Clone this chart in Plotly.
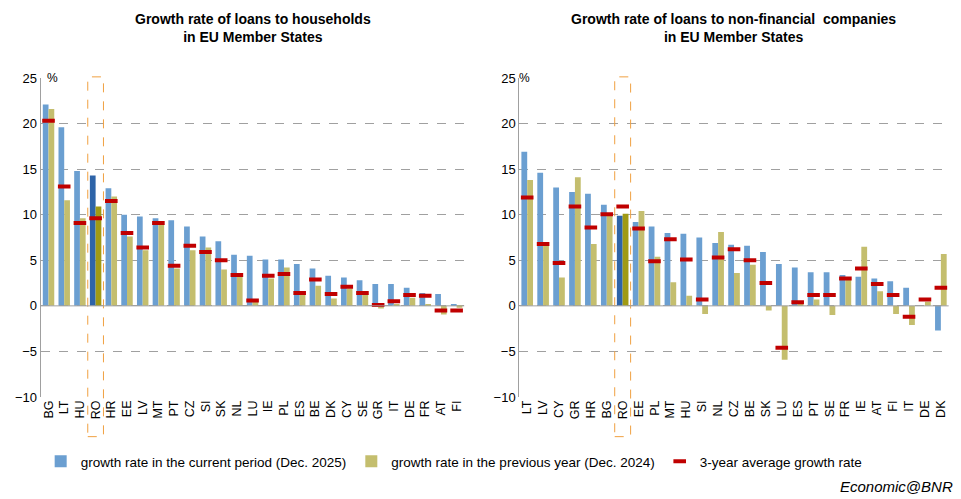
import plotly.graph_objects as go

hh_c = ["BG","LT","HU","RO","HR","EE","LV","MT","PT","CZ","SI","SK","NL","LU","IE","PL","ES","BE","DK","CY","SE","GR","IT","DE","FR","AT","FI"]
hh_cur = [22.1,19.6,14.8,14.3,12.9,10.0,9.8,9.6,9.4,8.7,7.6,7.1,5.6,5.5,5.1,5.1,4.6,4.1,3.3,3.1,2.8,2.4,2.4,2.0,1.4,1.3,0.1]
hh_prev = [21.6,11.6,9.6,10.9,12.0,7.6,6.1,9.0,4.1,6.1,6.4,4.0,3.2,0.55,3.0,4.2,1.4,2.2,0.8,1.9,1.4,-0.3,0.1,0.9,0.2,-0.95,-0.2]
hh_avg = [20.3,13.1,9.1,9.6,11.5,8.0,6.4,9.1,4.4,6.6,5.9,5.0,3.4,0.6,3.3,3.5,1.4,2.9,1.3,2.1,1.4,0.1,0.5,1.2,1.1,-0.5,-0.5]

nf_c = ["LT","LV","CY","GR","HR","BG","RO","EE","PL","MT","HU","SI","NL","CZ","BE","SK","LU","ES","PT","SE","FR","IE","AT","FI","IT","DE","DK"]
nf_cur = [16.9,14.6,13.0,12.5,12.3,11.1,9.9,9.2,8.7,8.0,7.9,7.5,6.9,6.7,6.6,5.9,4.6,4.2,3.7,3.7,3.4,3.2,3.0,2.7,2.0,0.0,-2.7]
nf_prev = [13.8,6.6,3.1,14.1,6.8,10.1,10.1,10.4,5.4,2.6,1.1,-0.9,8.1,3.6,4.5,-0.5,-5.9,0.2,0.7,-1.0,3.0,6.5,1.6,-0.9,-2.1,0.45,5.7]
nf_avg = [11.9,6.8,4.7,10.9,8.6,10.05,10.9,8.5,4.9,7.3,5.1,0.7,5.3,6.2,5.0,2.5,-4.6,0.4,1.2,1.2,3.0,4.1,2.4,1.2,-1.2,0.7,2.0]

titles = ["<b>Growth rate of loans to households<br>in EU Member States</b>",
          "<b>Growth rate of loans to non-financial  companies<br>in EU Member States</b>"]
labels = ["growth rate in the current period (Dec. 2025)",
          "growth rate in the previous year (Dec. 2024)",
          "3-year average growth rate"]

BLUE, BLUE_D = "#6B9FD1", "#2E64A8"
OLIVE, OLIVE_D = "#C4BE6E", "#A09A14"
RED = "#C00000"

fig = go.Figure()
panels = [(hh_c, hh_cur, hh_prev, hh_avg, "x", "y"), (nf_c, nf_cur, nf_prev, nf_avg, "x2", "y2")]
for i, (c, cur, prev, avg, xa, ya) in enumerate(panels):
    show = i == 0
    fig.add_bar(x=c, y=cur, name=labels[0], xaxis=xa, yaxis=ya, showlegend=show, legendgroup="a",
                marker_color=[BLUE_D if k == "RO" else BLUE for k in c], marker_line_width=0)
    fig.add_bar(x=c, y=prev, name=labels[1], xaxis=xa, yaxis=ya, showlegend=show, legendgroup="b",
                marker_color=[OLIVE_D if k == "RO" else OLIVE for k in c], marker_line_width=0)
    fig.add_scatter(x=c, y=avg, name=labels[2], xaxis=xa, yaxis=ya, showlegend=show, legendgroup="c",
                    mode="markers", marker=dict(symbol="line-ew-open", size=9, color=RED, line=dict(width=4, color=RED)))
    ri = c.index("RO")
    fig.add_shape(type="rect", xref=xa, yref="paper", x0=ri - 0.5, x1=ri + 0.5, y0=0.141, y1=0.862,
                  line=dict(color="#F0A040", width=1, dash="dash"))

ydom = [0.2204, 0.8597]
axy = dict(range=[-10, 25], dtick=5, showgrid=True, gridcolor="#A0A0A0", griddash="dash", gridwidth=1,
           zeroline=False, showline=True, linecolor="#A0A0A0", ticks="", tickfont=dict(size=13, color="#000"),
           domain=ydom, automargin=False)
axx = dict(type="category", tickangle=-90, tickfont=dict(size=12.5, color="#000"), showline=False, ticks="",
           range=[-0.5, 26.5], dtick=1, automargin=False)
fig.update_layout(
    width=961, height=499, margin=dict(l=0, r=0, t=0, b=0),
    plot_bgcolor="white", paper_bgcolor="white",
    font=dict(family="Liberation Sans, Arial", size=13, color="#000"),
    barmode="group", bargap=0.27, bargroupgap=0,
    xaxis=dict(axx, domain=[0.034, 0.475], anchor="y"),
    xaxis2=dict(axx, domain=[0.532, 0.979], anchor="y2"),
    yaxis=dict(axy, anchor="x"),
    yaxis2=dict(axy, anchor="x2"),
    legend=dict(orientation="h", x=0.034, y=0.091, xanchor="left", yanchor="middle", font=dict(size=13.5),
                tracegroupgap=0),
    shapes=list(fig.layout.shapes) + [
        dict(type="line", xref="x", yref="y", x0=-0.5, x1=26.5, y0=0, y1=0, line=dict(color="#A0A0A0", width=1)),
        dict(type="line", xref="x2", yref="y2", x0=-0.5, x1=26.5, y0=0, y1=0, line=dict(color="#A0A0A0", width=1)),
    ],
    annotations=[
        dict(text=titles[0], x=0.255, y=0.998, xref="paper", yref="paper", xanchor="center", yanchor="top", showarrow=False, font=dict(size=14)),
        dict(text=titles[1], x=0.755, y=0.998, xref="paper", yref="paper", xanchor="center", yanchor="top", showarrow=False, font=dict(size=14)),
        dict(text="%", x=0.039, y=0.878, xref="paper", yref="paper", showarrow=False, font=dict(size=12)),
        dict(text="%", x=0.537, y=0.878, xref="paper", yref="paper", showarrow=False, font=dict(size=12)),
        dict(text="<i>Economic@BNR</i>", x=0.985, y=0.02, xref="paper", yref="paper", xanchor="right", yanchor="bottom",
             showarrow=False, font=dict(size=15)),
    ],
)
fig.write_html("out.html")
